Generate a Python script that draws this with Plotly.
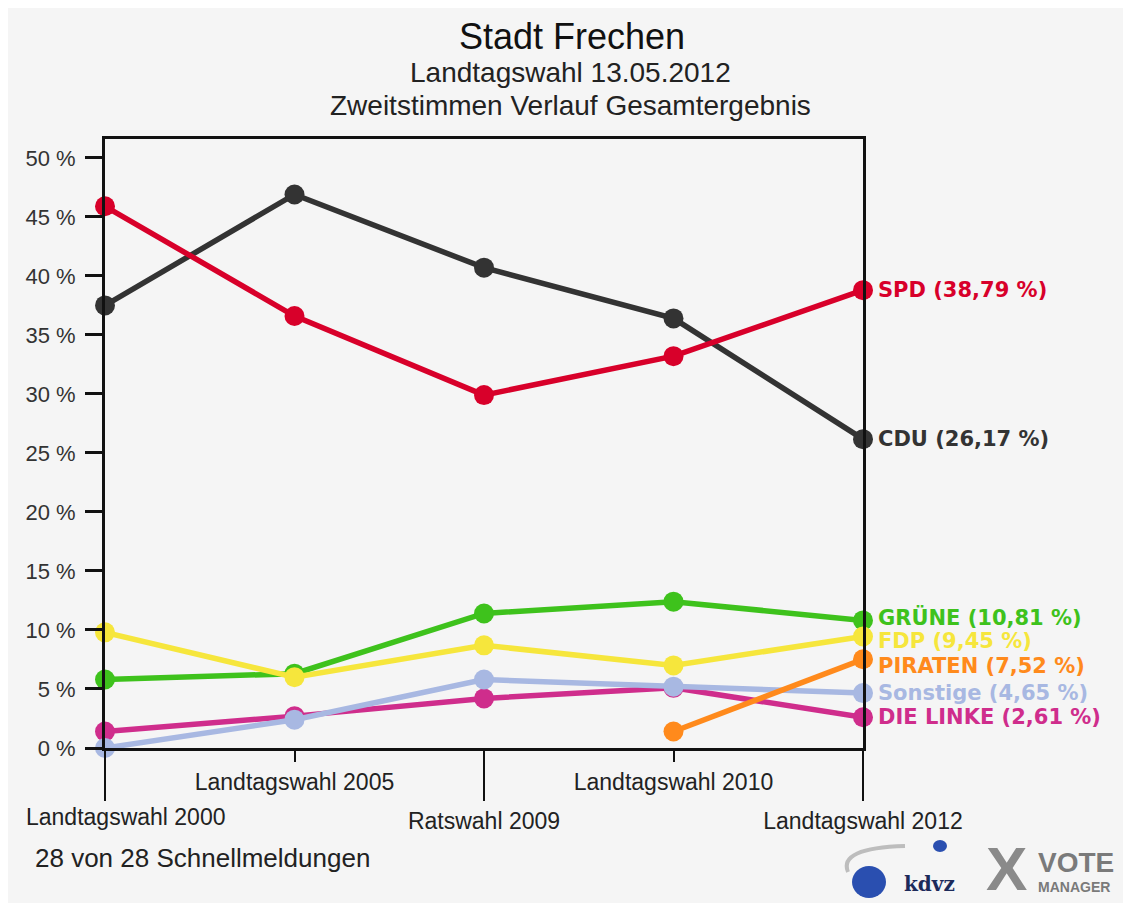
import plotly.graph_objects as go

# ---------------- data ----------------
elections = ["Landtagswahl 2000", "Landtagswahl 2005", "Ratswahl 2009",
             "Landtagswahl 2010", "Landtagswahl 2012"]
cdu = [37.5, 46.9, 40.7, 36.4, 26.17]
spd = [45.9, 36.6, 29.9, 33.2, 38.79]
gruene = [5.8, 6.3, 11.4, 12.4, 10.81]
fdp = [9.8, 6.0, 8.7, 7.0, 9.45]
piraten = [None, None, None, 1.4, 7.52]
sonstige = [0.0, 2.4, 5.8, 5.2, 4.65]
linke = [1.4, 2.7, 4.2, 5.1, 2.61]
y_ticks = [0, 5, 10, 15, 20, 25, 30, 35, 40, 45, 50]
y_ticktext = [f"{v} %" for v in y_ticks]

series = [
    ("CDU", cdu, "#333333", "CDU (26,17 %)", 0),
    ("SPD", spd, "#d8002a", "SPD (38,79 %)", 0),
    ("GRÜNE", gruene, "#3ec21c", "GRÜNE (10,81 %)", 3),
    ("FDP", fdp, "#f6e63c", "FDP (9,45 %)", -5),
    ("DIE LINKE", linke, "#cf2d8c", "DIE LINKE (2,61 %)", 0),
    ("Sonstige", sonstige, "#a8b8e2", "Sonstige (4,65 %)", 0),
    ("PIRATEN", piraten, "#ff8a1c", "PIRATEN (7,52 %)", -7),
]

xpos = list(range(len(elections)))

# figure geometry (page has an 8px body margin)
OFF = 8
W, H = 1115, 895
PL, PR, PT, PB = 105 - OFF, 863 - OFF, 139 - OFF, 748 - OFF
ph = PB - PT
pw = PR - PL


def py(ypx):
    """reference page y pixel -> paper coordinate"""
    return (PB - (ypx - OFF)) / ph


def px(xpx):
    """reference page x pixel -> paper coordinate"""
    return ((xpx - OFF) - PL) / pw


fig = go.Figure()
for name, vals, col, label, shift in series:
    fig.add_trace(go.Scatter(
        x=xpos, y=vals, mode="lines+markers", name=name,
        line=dict(color=col, width=5.5),
        marker=dict(color=col, size=20),
        cliponaxis=False, showlegend=False, connectgaps=False))
    fig.add_annotation(x=xpos[-1], y=vals[-1], xref="x", yref="y",
                       text=label, showarrow=False, xanchor="left",
                       yanchor="middle", xshift=13, yshift=shift,
                       font=dict(family="DejaVu Sans", size=21, color=col,
                                 weight="bold"))

# invisible trace for secondary x axis (short ticks)
fig.add_trace(go.Scatter(x=xpos, y=[None] * len(xpos), xaxis="x2",
                         showlegend=False, hoverinfo="skip"))

font_fam = "Liberation Sans"

fig.update_layout(
    width=W, height=H,
    margin=dict(l=PL, r=W - PR, t=PT, b=H - PB, pad=0),
    paper_bgcolor="#f5f5f5",
    plot_bgcolor="#f5f5f5",
    font=dict(family=font_fam, color="#222222"),
    xaxis=dict(range=[0, 4], tickvals=[0, 2, 4],
               ticktext=["", elections[2], elections[4]],
               ticks="outside", ticklen=50, tickwidth=2, tickcolor="#111",
               showline=True, linewidth=3, linecolor="#111", mirror=True,
               showgrid=False, zeroline=False,
               tickfont=dict(size=23, color="#222")),
    xaxis2=dict(range=[0, 4], overlaying="x", anchor="y", side="bottom",
                tickvals=[1, 3], ticktext=[elections[1], elections[3]],
                ticks="outside", ticklen=13, tickwidth=2, tickcolor="#111",
                showline=False, showgrid=False, zeroline=False,
                tickfont=dict(size=23, color="#222")),
    yaxis=dict(range=[0, 51.6], tickvals=y_ticks, ticktext=y_ticktext,
               ticks="outside", ticklen=17, tickwidth=3, tickcolor="#111",
               ticklabelstandoff=5,
               showline=True, linewidth=3, linecolor="#111", mirror=True,
               showgrid=False, zeroline=False,
               tickfont=dict(size=22, color="#333")),
)

# first category label sits right of its tick in the original
fig.add_annotation(x=xpos[0], y=py(817), xref="x", yref="paper",
                   xanchor="left", yanchor="middle", xshift=-81,
                   text=elections[0], showarrow=False,
                   font=dict(family=font_fam, size=23, color="#222"))


def note(x, y, text, size, color, xanchor="center", family=font_fam):
    fig.add_annotation(x=px(x), y=py(y), xref="paper", yref="paper",
                       xanchor=xanchor, yanchor="middle", text=text,
                       showarrow=False,
                       font=dict(family=family, size=size, color=color))


# titles
note(572, 37, "Stadt Frechen", 36, "#111")
note(570, 73, "Landtagswahl 13.05.2012", 28, "#222")
note(570, 106, "Zweitstimmen Verlauf Gesamtergebnis", 28, "#222")
note(33, 858, "28 von 28 Schnellmeldungen", 26, "#222", xanchor="left")

# logos (decorative)
fig.add_shape(type="path", xref="paper", yref="paper",
              path=f"M {px(905)},{py(846)} Q {px(838)},{py(848)} {px(848)},{py(872)}",
              line=dict(color="#bdbdbd", width=4))
fig.add_shape(type="circle", xref="paper", yref="paper",
              x0=px(852), x1=px(886), y0=py(898), y1=py(866),
              fillcolor="#2a4fb0", line=dict(width=0))
fig.add_shape(type="circle", xref="paper", yref="paper",
              x0=px(933), x1=px(947), y0=py(852), y1=py(840),
              fillcolor="#2a4fb0", line=dict(width=0))
note(902, 884, "<b>kdvz</b>", 20, "#1c2a5a", xanchor="left", family="DejaVu Serif")
note(1006, 868, "<b>X</b>", 62, "#8a8a8a")
note(1036, 862, "<b>VOTE</b>", 28, "#7a7a7a", xanchor="left")
note(1036, 887, "<b>MANAGER</b>", 14, "#7a7a7a", xanchor="left")

fig.write_html("out.html")
